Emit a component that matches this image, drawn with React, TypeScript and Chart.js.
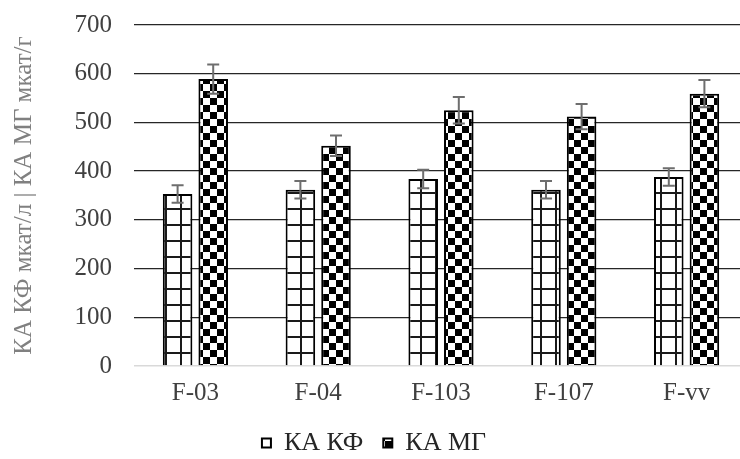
import React, { useEffect, useRef } from 'react';
import { Chart, registerables } from 'chart.js';

Chart.register(...registerables);

const categories = ['F-03', 'F-04', 'F-103', 'F-107', 'F-vv'];
const seriesNames = ['КА КФ', 'КА МГ'];
const kfValues = [353, 362, 384, 362, 388];
const kfErrors = [18, 18, 19, 18, 18];
const mgValues = [589, 452, 525, 512, 559];
const mgErrors = [30, 21, 27, 26, 28];
const yMin = 0;
const yMax = 700;
const yStep = 100;
const yTitle = 'КА КФ мкат/л | КА МГ мкат/г';

const FONT = '"Liberation Serif", "Times New Roman", serif';

function makeGridPattern(ctx: CanvasRenderingContext2D) {
  const c = document.createElement('canvas');
  c.width = 15;
  c.height = 16;
  const g = c.getContext('2d')!;
  g.fillStyle = '#ffffff';
  g.fillRect(0, 0, 15, 16);
  g.fillStyle = '#1a1a1a';
  g.fillRect(0, 0, 2, 16);
  g.fillRect(0, 0, 15, 2);
  return ctx.createPattern(c, 'repeat')!;
}

function makeCheckerPattern(ctx: CanvasRenderingContext2D) {
  const c = document.createElement('canvas');
  c.width = 14;
  c.height = 14;
  const g = c.getContext('2d')!;
  g.fillStyle = '#ffffff';
  g.fillRect(0, 0, 14, 14);
  g.fillStyle = '#000000';
  g.fillRect(0, 0, 7, 7);
  g.fillRect(7, 7, 7, 7);
  return ctx.createPattern(c, 'repeat')!;
}

const errorBarPlugin = {
  id: 'errorBars',
  afterDatasetsDraw(chart: any) {
    const ctx: CanvasRenderingContext2D = chart.ctx;
    const yScale = chart.scales.y;
    chart.data.datasets.forEach((ds: any, di: number) => {
      const meta = chart.getDatasetMeta(di);
      meta.data.forEach((bar: any, i: number) => {
        const v = ds.data[i];
        const e = ds.errors[i];
        const x = bar.x;
        const top = yScale.getPixelForValue(v + e);
        const bot = yScale.getPixelForValue(v - e);
        ctx.save();
        ctx.strokeStyle = '#6e6e6e';
        ctx.lineWidth = 2;
        ctx.beginPath();
        ctx.moveTo(x, top);
        ctx.lineTo(x, bot);
        ctx.moveTo(x - 6, top);
        ctx.lineTo(x + 6, top);
        ctx.moveTo(x - 6, bot);
        ctx.lineTo(x + 6, bot);
        ctx.stroke();
        ctx.restore();
      });
    });
  },
};

export default function App() {
  const canvasRef = useRef<HTMLCanvasElement | null>(null);

  useEffect(() => {
    document.body.style.margin = '0';
    const canvas = canvasRef.current!;
    const ctx = canvas.getContext('2d')!;
    const gridPat = makeGridPattern(ctx);
    const checkerPat = makeCheckerPattern(ctx);

    const chart = new Chart(canvas, {
      type: 'bar',
      data: {
        labels: categories,
        datasets: [
          {
            label: seriesNames[0],
            data: kfValues,
            errors: kfErrors,
            backgroundColor: gridPat,
            borderColor: '#000000',
            borderWidth: 2,
            categoryPercentage: 0.58,
            barPercentage: 0.83,
          } as any,
          {
            label: seriesNames[1],
            data: mgValues,
            errors: mgErrors,
            backgroundColor: checkerPat,
            borderColor: '#000000',
            borderWidth: 2,
            categoryPercentage: 0.58,
            barPercentage: 0.83,
          } as any,
        ],
      },
      options: {
        responsive: false,
        animation: false,
        devicePixelRatio: 1,
        layout: { padding: { top: 25, left: 0, right: 0, bottom: 0 } },
        plugins: {
          tooltip: { enabled: false },
          legend: {
            position: 'bottom',
            labels: {
              font: { family: FONT, size: 26 },
              color: '#262626',
              boxWidth: 9,
              boxHeight: 9,
              padding: 20,
            },
          },
        },
        scales: {
          x: {
            grid: { display: false, drawTicks: false },
            border: { display: false },
            ticks: {
              font: { family: FONT, size: 25 },
              color: '#404040',
              padding: 12,
            },
            afterFit: (scale: any) => {
              scale.height = 44;
            },
          },
          y: {
            min: yMin,
            max: yMax,
            ticks: {
              stepSize: yStep,
              font: { family: FONT, size: 25 },
              color: '#404040',
              padding: 22,
            },
            grid: {
              drawTicks: false,
              color: (c: any) => (c.tick && c.tick.value === 0 ? '#d9d9d9' : '#262626'),
              lineWidth: (c: any) => (c.tick && c.tick.value === 0 ? 1.5 : 1.3),
            },
            border: { display: false },
            title: {
              display: true,
              text: yTitle,
              color: '#808080',
              font: { family: FONT, size: 25 },
              padding: { top: 9, bottom: 0 },
            },
            afterFit: (scale: any) => {
              scale.width = 134;
              scale.paddingTop = 0;
              scale.paddingBottom = 0;
            },
          },
        },
      },
      plugins: [errorBarPlugin],
    });

    return () => {
      chart.destroy();
    };
  }, []);

  return (
    <div style={{ width: 740, height: 459, overflow: 'hidden', position: 'relative', background: '#fff' }}>
      <canvas
        ref={canvasRef}
        width={748}
        height={466}
        style={{ display: 'block', width: 748, height: 466 }}
      />
    </div>
  );
}
